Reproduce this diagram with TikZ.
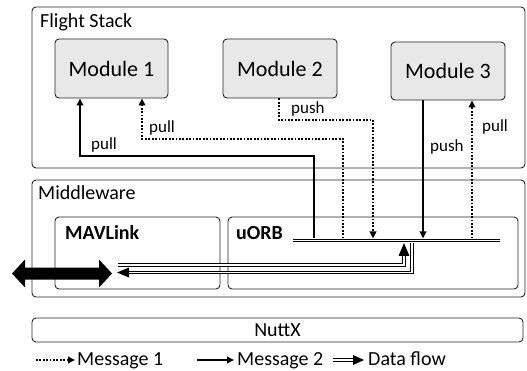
\documentclass[tikz,border=0pt]{standalone}
\usepackage{fontspec}
\setmainfont{Carlito}
\usetikzlibrary{arrows.meta}
\tikzset{
  box/.style={draw=black!85, line width=0.9pt, rounded corners=4pt, inner sep=0pt},
  module/.style={box, fill=black!9, minimum height=59pt, minimum width=114pt, font=\fontsize{22}{26}\selectfont},
  title/.style={anchor=base west, inner sep=0pt, font=\fontsize{20}{24}\selectfont},
  btitle/.style={title, font=\fontsize{20}{24}\selectfont\bfseries},
  lbl/.style={anchor=west, inner sep=0pt, font=\fontsize{17}{20}\selectfont},
  tipS/.style={-{Triangle[length=7pt,width=6.5pt]}},
  msgone/.style={line width=1.8pt, dash pattern=on 1.8pt off 1.6pt, tipS},
  msgtwo/.style={line width=1.8pt, tipS},
  dbl/.style={double, double distance=1.8pt, line width=0.8pt},
}
\begin{document}
\begin{tikzpicture}[x=1pt,y=-1pt]
\useasboundingbox (0,0) rectangle (527,371);
% outer boxes
\node[box, minimum width=493pt, minimum height=161pt] (fs) at (278.5,87.5) {};
\node[title] (fst) at (40,28) {Flight Stack};
\node[box, minimum width=493pt, minimum height=117pt] (mw) at (278.5,238.5) {};
\node[title] (mwt) at (38,200) {Middleware};
\node[box, minimum width=165pt, minimum height=72pt] (mav) at (137.5,253) {};
\node[btitle] (mavt) at (65,240) {MAVLink};
\node[box, minimum width=290pt, minimum height=72pt] (uorb) at (373,253) {};
\node[btitle] (uorbt) at (236,240) {uORB};
\node[box, minimum width=491pt, minimum height=24pt, font=\fontsize{20}{24}\selectfont] (nuttx) at (277.5,330) {NuttX};
% modules
\node[module, minimum width=113pt] (m1) at (111.5,68.5) {Module 1};
\node[module] (m2) at (280,68.5) {Module 2};
\node[module, minimum height=58pt] (m3) at (448,71) {Module 3};
% bus
\coordinate (busL) at (293,240.5);
\coordinate (busR) at (500,240.5);
\draw[dbl] (busL) -- (busR);
% bus attach points
\coordinate (b1) at (314,238.5);
\coordinate (b2) at (343,238.5);
\coordinate (b3) at (373,238.5);
\coordinate (b4) at (423,238.5);
\coordinate (b5) at (472,238.5);
\coordinate (t1) at (80,156);
\coordinate (t2) at (142,139);
\coordinate (t3) at (279,120);
% module connectors
\draw[msgtwo] (b1) |- (t1) -- (t1 |- m1.south);
\draw[msgone] (b2) |- (t2) -- (t2 |- m1.south);
\draw[msgone] (t3 |- m2.south) -- (t3) -| (b3);
\draw[msgtwo] (b4 |- m3.south) -- (b4);
\draw[msgone] (b5) -- (b5 |- m3.south);
\node[lbl] (l1) at (91,145) {pull};
\node[lbl] (l2) at (149,127.5) {pull};
\node[lbl] (l3) at (291,109) {push};
\node[lbl] (l4) at (430,147) {push};
\node[lbl] (l5) at (482,126.5) {pull};
% data flow between MAVLink and uORB
\coordinate (dA) at (118,265);
\coordinate (bA) at (404,243);
\coordinate (bB) at (412,243);
\coordinate (dB) at (117,272.5);
\draw[dbl, shorten >=10pt] (dA) -| (bA);
\fill (bA) -- ([xshift=-5.5pt,yshift=-13pt]bA) -- ([xshift=5.5pt,yshift=-13pt]bA) -- cycle;
\draw[dbl, shorten >=10pt] (bB) |- (dB);
\fill (dB) -- ([xshift=12pt,yshift=5pt]dB) -- ([xshift=12pt,yshift=-5pt]dB) -- cycle;
% external link (fat double arrow)
\fill (12,273.5) -- (25,259.5) -- (25,267.5) -- (99,267.5) -- (99,259.5) -- (112,273.5)
      -- (99,287.5) -- (99,279.5) -- (25,279.5) -- (25,287.5) -- cycle;
% legend
\coordinate (g1a) at (36,360);
\coordinate (g1b) at (75,360);
\coordinate (g2a) at (197,360);
\coordinate (g2b) at (234,360);
\coordinate (g3a) at (333,360);
\coordinate (g3b) at (364,360);
\draw[msgone] (g1a) -- (g1b);
\draw[msgtwo] (g2a) -- (g2b);
\draw[dbl, shorten >=9pt] (g3a) -- (g3b);
\fill (g3b) -- ([xshift=-11pt,yshift=5pt]g3b) -- ([xshift=-11pt,yshift=-5pt]g3b) -- cycle;
\node[title] (tg1) at (77,365) {Message 1};
\node[title] (tg2) at (237,365) {Message 2};
\node[title] (tg3) at (368,365) {Data flow};
\end{tikzpicture}
\end{document}
